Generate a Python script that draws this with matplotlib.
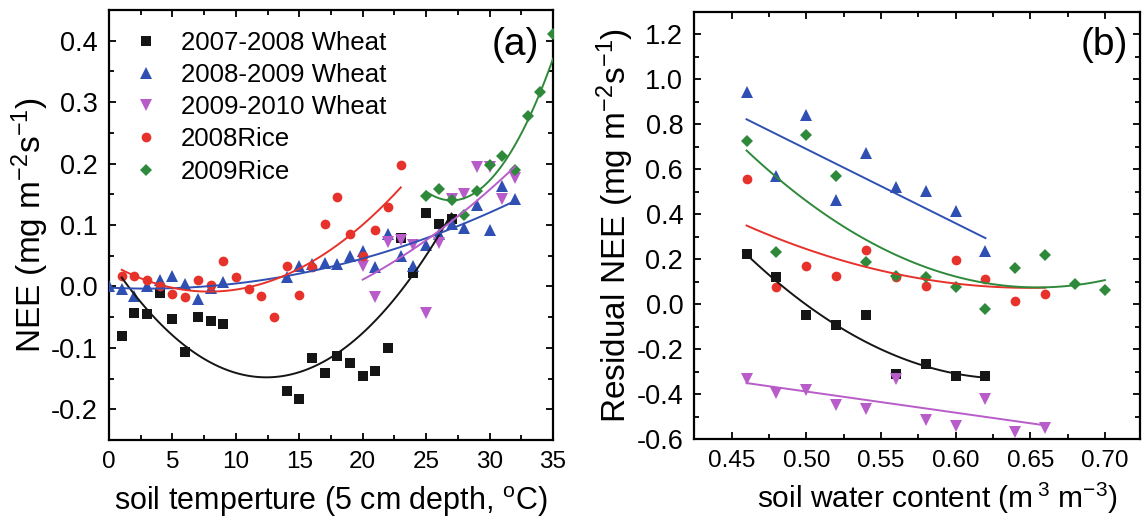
import numpy as np
import matplotlib
matplotlib.use('Agg')
import matplotlib.pyplot as plt
from matplotlib.ticker import MultipleLocator, FormatStrFormatter

plt.rcParams['font.family'] = ['Liberation Sans', 'DejaVu Sans']
plt.rcParams['mathtext.fontset'] = 'custom'
plt.rcParams['mathtext.rm'] = 'Liberation Sans'
plt.rcParams['mathtext.it'] = 'Liberation Sans:italic'
plt.rcParams['axes.unicode_minus'] = False

# ---- panel (a): NEE vs soil temperature ----
labels = ['2007-2008 Wheat', '2008-2009 Wheat', '2009-2010 Wheat', '2008Rice', '2009Rice']

t_w0708 = [1, 2, 3, 4, 5, 6, 7, 8, 9, 14, 15, 16, 17, 18, 19, 20, 21, 22, 23, 24, 25, 26, 27]
nee_w0708 = [-0.080, -0.043, -0.045, -0.011, -0.053, -0.106, -0.049, -0.057, -0.061, -0.170, -0.183,
             -0.116, -0.141, -0.113, -0.125, -0.146, -0.137, -0.100, 0.079, 0.022, 0.119, 0.102, 0.109]
t_w0809 = [0, 1, 2, 3, 4, 5, 6, 7, 8, 9, 14, 15, 16, 17, 18, 19, 20, 21, 22, 23, 24, 25, 26, 27, 28,
           29, 30, 31, 32]
nee_w0809 = [0.000, -0.005, -0.016, 0.000, 0.011, 0.017, 0.004, -0.020, -0.002, 0.007, 0.015, 0.033,
             0.037, 0.038, 0.037, 0.050, 0.058, 0.031, 0.085, 0.050, 0.033, 0.067, 0.085, 0.101, 0.095,
             0.132, 0.091, 0.163, 0.142]
t_w0910 = [20, 21, 22, 23, 24, 25, 26, 27, 28, 29, 30, 31, 32]
nee_w0910 = [0.033, -0.017, 0.073, 0.075, 0.068, -0.043, 0.071, 0.143, 0.150, 0.194, 0.195, 0.142, 0.176]
t_r08 = [1, 2, 3, 4, 5, 6, 7, 8, 9, 10, 11, 12, 13, 14, 15, 16, 17, 18, 19, 20, 21, 22, 23]
nee_r08 = [0.017, 0.017, 0.011, 0.001, -0.012, -0.018, 0.011, 0.003, 0.042, 0.015, -0.005, -0.016,
           -0.049, 0.033, -0.014, 0.031, 0.101, 0.145, 0.086, 0.049, 0.091, 0.129, 0.197]
t_r09 = [25, 26, 27, 28, 29, 30, 31, 32, 33, 34, 35]
nee_r09 = [0.147, 0.158, 0.140, 0.117, 0.155, 0.197, 0.212, 0.189, 0.278, 0.316, 0.411]

# fitted curves (polynomial coefficients, highest power first) and x ranges
fit_a = [[0.00125, -0.031, 0.0442], [0.00017, -0.00103, -0.002], [0.000356, -0.00317, -0.068],
         [0.000744, -0.01176, 0.038], [0.0036, -0.1944, 2.7644]]
range_a = [[1, 27], [0, 32], [20, 32], [1, 23], [25, 35]]

# ---- panel (b): residual NEE vs soil water content ----
wc_w0708 = [0.46, 0.48, 0.50, 0.52, 0.54, 0.56, 0.58, 0.60, 0.62]
res_w0708 = [0.222, 0.121, -0.046, -0.093, -0.049, -0.308, -0.264, -0.319, -0.319]
wc_w0809 = [0.46, 0.48, 0.50, 0.52, 0.54, 0.56, 0.58, 0.60, 0.62]
res_w0809 = [0.944, 0.569, 0.843, 0.465, 0.672, 0.521, 0.504, 0.413, 0.237]
wc_w0910 = [0.46, 0.48, 0.50, 0.52, 0.54, 0.56, 0.58, 0.60, 0.62, 0.64, 0.66]
res_w0910 = [-0.333, -0.394, -0.382, -0.446, -0.464, -0.333, -0.513, -0.542, -0.421, -0.567, -0.550]
wc_r08 = [0.46, 0.48, 0.50, 0.52, 0.54, 0.56, 0.58, 0.60, 0.62, 0.64, 0.66]
res_r08 = [0.556, 0.077, 0.169, 0.127, 0.240, 0.120, 0.081, 0.196, 0.113, 0.015, 0.044]
wc_r09 = [0.46, 0.48, 0.50, 0.52, 0.54, 0.56, 0.58, 0.60, 0.62, 0.64, 0.66, 0.68, 0.70]
res_r09 = [0.724, 0.233, 0.754, 0.570, 0.187, 0.125, 0.121, 0.077, -0.022, 0.161, 0.218, 0.089, 0.065]

fit_b = [[18.0, -22.86, 6.928], [-3.3, 2.34], [-0.94, 0.0824], [7.67, -9.971, 3.3136],
         [16.0, -20.96, 6.9394]]
range_b = [[0.46, 0.62], [0.46, 0.62], [0.46, 0.66], [0.46, 0.66], [0.46, 0.70]]

colors = ['#151515', '#2f50b2', '#b85cca', '#e6322a', '#2e8a3a']
markers = ['s', '^', 'v', 'o', 'D']
msizes = [6.5, 8, 8, 7, 6.5]


def draw(ax, xs, ys, fits, ranges):
    for i in range(5):
        ax.plot(xs[i], ys[i], linestyle='none', marker=markers[i], ms=msizes[i],
                color=colors[i], markeredgewidth=0, label=labels[i], zorder=3)
        r = np.linspace(ranges[i][0], ranges[i][1], 100)
        ax.plot(r, np.polyval(fits[i], r), color=colors[i], linewidth=1.4, zorder=4)
    ax.tick_params(which='both', direction='in', top=True, right=True, width=1.3)
    ax.tick_params(axis='x', labelsize=17.5, pad=8)
    ax.tick_params(axis='y', labelsize=19.5, pad=8)
    ax.tick_params(which='major', length=5)
    ax.tick_params(which='minor', length=3.5)
    for s in ax.spines.values():
        s.set_linewidth(1.6)


fig = plt.figure(figsize=(11.44, 5.23), dpi=100)
ax1 = fig.add_axes([0.0953, 0.1587, 0.3881, 0.8223])
ax2 = fig.add_axes([0.6069, 0.1600, 0.3896, 0.8176])

draw(ax1, [t_w0708, t_w0809, t_w0910, t_r08, t_r09],
     [nee_w0708, nee_w0809, nee_w0910, nee_r08, nee_r09], fit_a, range_a)
draw(ax2, [wc_w0708, wc_w0809, wc_w0910, wc_r08, wc_r09],
     [res_w0708, res_w0809, res_w0910, res_r08, res_r09], fit_b, range_b)

ax1.set_xlim(0, 35)
ax1.set_ylim(-0.25, 0.45)
ax1.xaxis.set_major_locator(MultipleLocator(5))
ax1.xaxis.set_minor_locator(MultipleLocator(2.5))
ax1.yaxis.set_major_locator(MultipleLocator(0.1))
ax1.yaxis.set_minor_locator(MultipleLocator(0.05))
ax1.yaxis.set_major_formatter(FormatStrFormatter('%.1f'))
ax1.set_xlabel('soil temperture (5 cm depth, $^{\\mathrm{o}}$C)', fontsize=22, labelpad=8)
ax1.set_ylabel('NEE (mg m$^{-2}$s$^{-1}$)', fontsize=24, labelpad=0)
ax1.text(0.914, 0.919, '(a)', transform=ax1.transAxes, fontsize=28, ha='center', va='center')
ax1.legend(loc='upper left', bbox_to_anchor=(0.054, 0.952), frameon=False, fontsize=18.6,
           handlelength=1.0, handletextpad=0.85, labelspacing=0.32, borderpad=0, borderaxespad=0)

ax2.set_xlim(0.425, 0.7235)
ax2.set_ylim(-0.6, 1.3)
ax2.xaxis.set_major_locator(MultipleLocator(0.05))
ax2.xaxis.set_minor_locator(MultipleLocator(0.025))
ax2.yaxis.set_major_locator(MultipleLocator(0.2))
ax2.yaxis.set_minor_locator(MultipleLocator(0.1))
ax2.xaxis.set_major_formatter(FormatStrFormatter('%.2f'))
ax2.yaxis.set_major_formatter(FormatStrFormatter('%.1f'))
ax2.set_xlabel('soil water content (m$\\,^{3}$ m$^{-3}$)', fontsize=21.5)
ax2.xaxis.set_label_coords(0.545, -0.098)
ax2.set_ylabel('Residual NEE (mg m$^{-2}$s$^{-1}$)', fontsize=24, labelpad=0)
ax2.text(0.921, 0.922, '(b)', transform=ax2.transAxes, fontsize=28, ha='center', va='center')

fig.savefig('out.png', dpi=100)
